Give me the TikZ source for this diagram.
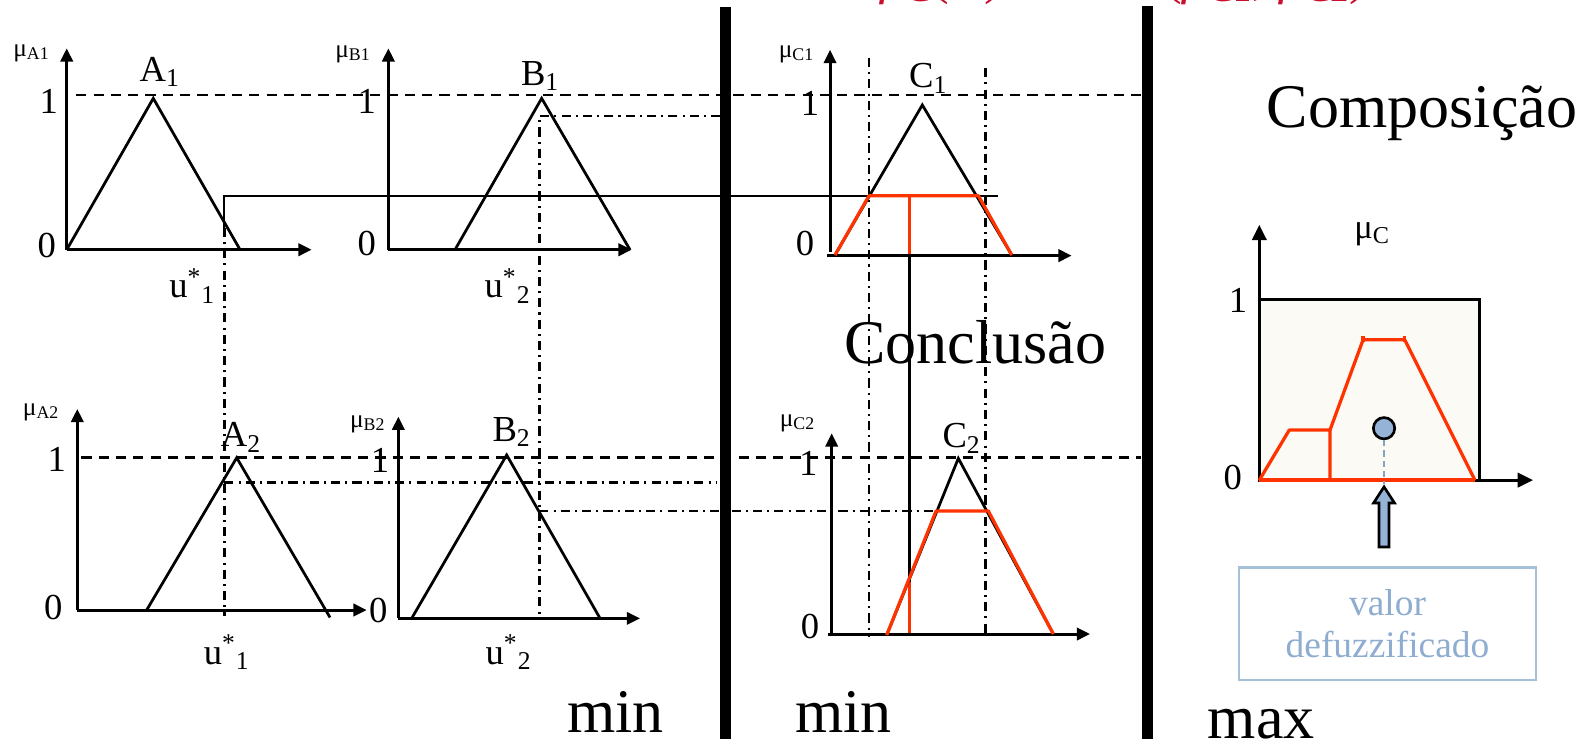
\documentclass[tikz,border=0pt]{standalone}
\usepackage{fontspec}
\setmainfont{Liberation Serif}
\usetikzlibrary{arrows.meta}
\definecolor{redc}{HTML}{FF3300}
\definecolor{bluefill}{HTML}{95B3D7}
\definecolor{bluebox}{HTML}{A7C0DA}
\definecolor{bluetext}{HTML}{8EADD0}
\definecolor{boxfill}{HTML}{FBFAF5}
\definecolor{topred}{HTML}{C8102E}
\tikzset{
  axis/.style={line width=1.5pt, -{Triangle[length=6.5pt,width=6pt]}},
  bigaxis/.style={line width=1.5pt, -{Triangle[length=7.5pt,width=7pt]}},
  tri/.style={line width=1.35pt, line join=miter},
  dashedline/.style={line width=1.3pt, dash pattern=on 5pt off 3.5pt},
  dashdot/.style={line width=1.25pt, dash pattern=on 4.5pt off 2.5pt on 1pt off 2.5pt},
  solidline/.style={line width=1.1pt},
  redline/.style={line width=1.6pt, draw=redc, line join=round},
  bar/.style={line width=5.5pt},
  lab/.style={font=\fontsize{18pt}{18pt}\selectfont, inner sep=0pt},
  mulab/.style={font=\fontsize{12.5pt}{12.5pt}\selectfont, inner sep=0pt},
  big/.style={font=\fontsize{30.5pt}{30.5pt}\selectfont, inner sep=0pt, anchor=base},
  formula/.style={font=\fontsize{26pt}{26pt}\selectfont, text=topred, inner sep=0pt, anchor=base west},
}
\begin{document}
\begin{tikzpicture}[x=0.5pt,y=-0.5pt]
\useasboundingbox (0,0) rectangle (1568,726);
\fill[white] (0,0) rectangle (1568,726);

% top formula (cut by the upper edge, as in the original)
\node[formula] (f1) at (864,-6) {\textit{μ}\textsubscript{C}(\textit{w}) = max};
\node[formula] (f2) at (1144,-6) {(\textit{μ}\textsubscript{C1}, \textit{μ}\textsubscript{C2})};

% key coordinates
\coordinate (u1top) at (220.5,192.4);
\coordinate (u1mid) at (220.5,224);
\coordinate (u1bot) at (220.5,606);
\coordinate (u2top) at (530.2,114);
\coordinate (u2bot) at (530.2,609);
\coordinate (minR) at (981.4,192.4);
\coordinate (lbar1) at (708,114);
\coordinate (a2lev) at (220.5,474.5);
\coordinate (a2end) at (705,474.5);
\coordinate (b2lev) at (530.2,502.4);
\coordinate (b2end) at (973,502.4);
\coordinate (cl1) at (854.3,57);
\coordinate (cl2) at (854.3,626);
\coordinate (cr1) at (969,67);
\coordinate (cr2) at (969,626);

% long dashed "1" lines
\draw[dashedline] (75,93.5) coordinate (d1a) -- (1122,93.5) coordinate (d1b);
\draw[dashedline] (80,450) coordinate (d2a) -- (1122,450) coordinate (d2b);

% projection lines
\draw[solidline] (u1mid) -- (u1top) -- (minR);
\draw[dashdot] (u1mid) -- (u1bot);
\draw[dashdot] (lbar1) -- (u2top) -- (u2bot);
\draw[dashdot] (a2lev) -- (a2end);
\draw[dashdot] (b2lev) -- (b2end);
\draw[dashdot] (cl1) -- (cl2);
\draw[dashdot] (cr1) -- (cr2);

% ---------- A1 ----------
\draw[axis] (65.6,245.5) -- (65.6,47.5);
\draw[axis] (65.6,245.5) -- (306.4,245.5);
\draw[tri] (65.6,245.5) -- (150.7,96.7) -- (236,245.5);
\node[lab] (a1zero) at (46,241) {0};
\node[lab] (a1one) at (48,100) {1};
\node[mulab] (a1mu) at (31,52) {μ\textsubscript{A1}};
\node[lab] (a1name) at (157,71) {A\textsubscript{1}};
\node[lab] (a1u) at (189,281) {u\textsuperscript{*}\textsubscript{1}};

% ---------- B1 ----------
\draw[axis] (381.8,245.5) -- (381.8,47.5);
\draw[axis] (381.8,245.5) -- (621,245.5);
\draw[tri] (447.3,245.5) -- (532.5,96.7) -- (619.3,245.5);
\node[lab] (b1zero) at (360.5,239) {0};
\node[lab] (b1one) at (360.5,100) {1};
\node[mulab] (b1mu) at (347,53) {μ\textsubscript{B1}};
\node[lab] (b1name) at (531,75) {B\textsubscript{1}};
\node[lab] (b1u) at (499,281) {u\textsuperscript{*}\textsubscript{2}};

% ---------- C1 ----------
\draw[axis] (816,247.4) -- (816,49);
\draw[axis] (812.7,251.3) -- (1053.5,251.3);
\draw[tri] (820.9,250.7) -- (906.7,103.2) -- (994.6,250.7);
\draw[redline] (820.9,250.7) -- (854.3,192.4) -- (961.8,192.4) -- (994.6,250.7);
\node[lab] (c1zero) at (791.4,239.2) {0};
\node[lab] (c1one) at (796.3,101.6) {1};
\node[mulab] (c1mu) at (783,53) {μ\textsubscript{C1}};
\node[lab] (c1name) at (912.6,77) {C\textsubscript{1}};

% vertical line through conclusions
\draw[solidline] (894,250) -- (894,574);
\draw[redline] (894,192.4) -- (894,250);
\draw[redline] (894,572) -- (894,623.3);

% ---------- A2 ----------
\draw[axis] (76,599.7) -- (76,402);
\draw[axis] (76,599.7) -- (360.5,599.7);
\draw[tri] (144.2,599.7) -- (232.7,450) -- (324.4,607);
\node[lab] (a2zero) at (52.4,597) {0};
\node[lab] (a2one) at (55.7,452) {1};
\node[mulab] (a2mu) at (40.5,405) {μ\textsubscript{A2}};
\node[lab] (a2name) at (237,430) {A\textsubscript{2}};
\node[lab] (a2u) at (223,641) {u\textsuperscript{*}\textsubscript{1}};

% ---------- B2 ----------
\draw[axis] (391.6,607.9) -- (391.6,409.6);
\draw[axis] (391.6,607.9) -- (629.2,607.9);
\draw[tri] (404.7,607.9) -- (498.1,447.3) -- (589.9,607.9);
\node[lab] (b2zero) at (371.9,599.7) {0};
\node[lab] (b2one) at (373.6,452.2) {1};
\node[mulab] (b2mu) at (361.5,417) {μ\textsubscript{B2}};
\node[lab] (b2name) at (503,425) {B\textsubscript{2}};
\node[lab] (b2u) at (500,641) {u\textsuperscript{*}\textsubscript{2}};

% ---------- C2 ----------
\draw[axis] (817.6,623.3) -- (817.6,426);
\draw[axis] (814.3,623.3) -- (1071.6,623.3);
\draw[tri] (871.7,624.3) -- (942.1,450.6) -- (1035.5,623.3);
\draw[redline] (871.7,624.3) -- (920.2,502.4) -- (971.6,502.4) -- (1035.5,623.3);
\node[lab] (c2zero) at (796.3,616) {0};
\node[lab] (c2one) at (794.7,455.5) {1};
\node[mulab] (c2mu) at (784,416) {μ\textsubscript{C2}};
\node[lab] (c2name) at (945.4,430.9) {C\textsubscript{2}};

% thick separating bars
\draw[bar] (713.5,7) -- (713.5,726);
\draw[bar] (1128,6) -- (1128,726);

% big words
\node[big] (conclusao) at (959,357) {Conclusão};
\node[big] (composicao) at (1398,125) {Composição};
\node[big] (min1) at (605,720) {min};
\node[big] (min2) at (829,720) {min};
\node[big] (maxw) at (1240,726) {max};

% ---------- composition panel ----------
\draw[line width=1.5pt, fill=boxfill] (1238,294) rectangle (1454,472);
\draw[bigaxis] (1238,472) -- (1238,221);
\draw[bigaxis] (1238,472) -- (1507,472);
\draw[redline] (1238,472) -- (1450,472);
\draw[redline] (1238,472) -- (1267.5,422.7) -- (1307.5,422.7) -- (1307.5,472);
\draw[redline] (1307.5,422.7) -- (1340,334) -- (1381,334) -- (1450,472);
\draw[redline] (1340,330) -- (1340,336);
\draw[redline] (1381,330) -- (1381,336);
\node[lab] (cone) at (1217,295) {1};
\node[lab] (czero) at (1212,469) {0};
\node[font=\fontsize{17pt}{17pt}\selectfont, inner sep=0pt] (cmu) at (1349,230) {μ\textsubscript{C}};
\node[circle, draw=black, line width=1.3pt, fill=bluefill, minimum size=10.5pt, inner sep=0pt] (centroid) at (1360.6,421) {};
\coordinate (cfoot) at (1360.6,476);
\draw[draw=bluefill!90!black, line width=1pt, dash pattern=on 3pt off 2pt] (centroid.south) -- (cfoot);
\draw[line width=1.3pt, fill=bluefill] (1355.7,537.8) -- (1355.7,494.5) -- (1350.3,494.5) -- (1360.6,478.6) -- (1370.9,494.5) -- (1365.5,494.5) -- (1365.5,537.8) -- cycle;
\node[draw=bluebox, line width=1.3pt, minimum width=146pt, minimum height=55.25pt, inner sep=0pt, align=center, text=bluetext, font=\fontsize{18.4pt}{20.5pt}\selectfont] (defuz) at (1364,613.25) {valor\\defuzzificado};
\end{tikzpicture}
\end{document}
